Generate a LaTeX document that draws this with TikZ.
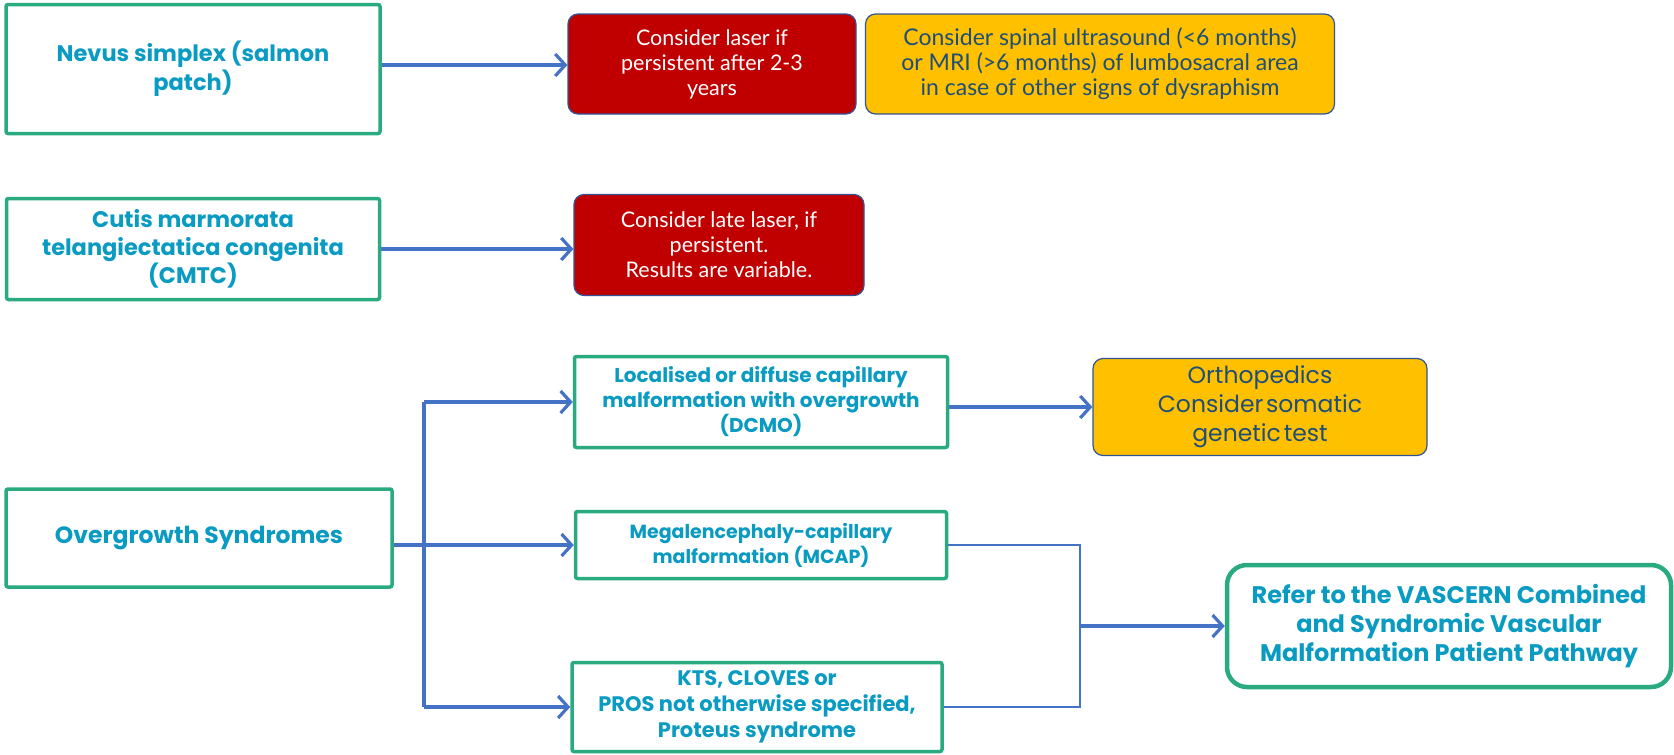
\documentclass[tikz,border=0pt]{standalone}
\usepackage{fontspec}
\setmainfont{Lato}
\newfontfamily\headfont{Poppins}
\usepackage{xcolor}
\usetikzlibrary{positioning,arrows.meta}

\definecolor{boxgreen}{HTML}{2AAA80}
\definecolor{tealtext}{HTML}{0A9BC2}
\definecolor{flowblue}{HTML}{4472C4}
\definecolor{alertred}{HTML}{C00000}
\definecolor{warnorange}{HTML}{FFC000}
\definecolor{navytext}{HTML}{1F4E79}
\definecolor{edgeblue}{HTML}{2F5597}

\begin{document}
\begin{tikzpicture}[
  x=1pt, y=-1pt,
  greenbox/.style={rectangle, rounded corners=2pt, draw=boxgreen, line width=3.5pt,
                   fill=white, align=center, text=tealtext, font=\headfont\bfseries\fontsize{22.5}{29}\selectfont},
  redbox/.style={rectangle, rounded corners=10pt, draw=edgeblue, line width=1.2pt,
                 fill=alertred, align=center, text=white, font=\fontsize{21.5}{25}\selectfont},
  orangebox/.style={rectangle, rounded corners=10pt, draw=edgeblue, line width=1.2pt,
                    fill=warnorange, align=center, text=navytext, font=\fontsize{23}{25}\selectfont},
  flow/.style={-{Straight Barb[length=10pt, width=22pt]}, draw=flowblue, line width=3.2pt},
  trunk/.style={draw=flowblue, line width=3.2pt},
  link/.style={draw=flowblue, line width=2.4pt}
]
\useasboundingbox (0,0) rectangle (1674,755);

% Nevus simplex row
\node[greenbox, minimum width=374pt, minimum height=129pt] (nevus) at (193,69)
  {Nevus simplex (salmon\\patch)};
\node[redbox, minimum width=288pt, minimum height=100pt] (laser1) at (712,64)
  {Consider laser if\\persistent after 2-3\\years};
\node[orangebox, minimum width=469pt, minimum height=100pt] (spine) at (1100,64)
  {Consider spinal ultrasound (<6 months)\\or MRI (>6 months) of lumbosacral area\\in case of other signs of dysraphism};
\draw[flow] (nevus.east |- 0,65) -- (laser1.west |- 0,65);

% CMTC row
\node[greenbox, minimum width=373pt, minimum height=101pt, font=\headfont\bfseries\fontsize{22.5}{28}\selectfont] (cmtc) at (193,249)
  {Cutis marmorata\\telangiectatica congenita\\(CMTC)};
\node[redbox, minimum width=290pt, minimum height=101pt] (laser2) at (719,245)
  {Consider late laser, if\\persistent.\\Results are variable.};
\draw[flow] (cmtc.east) -- (cmtc.east -| laser2.west);

% Overgrowth syndromes
\node[greenbox, minimum width=386pt, minimum height=98pt, font=\headfont\bfseries\fontsize{23.5}{29}\selectfont] (og) at (199,538)
  {Overgrowth Syndromes};
\node[greenbox, minimum width=373pt, minimum height=91pt, font=\headfont\bfseries\fontsize{20}{25}\selectfont] (dcmo) at (761,402)
  {Localised or diffuse capillary\\malformation with overgrowth\\(DCMO)};
\node[orangebox, minimum width=334pt, minimum height=97pt, font=\headfont\fontsize{23.5}{29}\selectfont] (ortho) at (1260,407)
  {Orthopedics\\Consider\hspace{0.12em}somatic\\genetic\hspace{0.12em}test};
\node[greenbox, minimum width=371pt, minimum height=67pt, font=\headfont\bfseries\fontsize{19}{25}\selectfont] (mcap) at (761,545)
  {Megalencephaly-capillary\\malformation (MCAP)};
\node[greenbox, minimum width=370pt, minimum height=89pt, font=\headfont\bfseries\fontsize{21}{26}\selectfont] (kts) at (757,707)
  {KTS, CLOVES or\\PROS not otherwise specified,\\Proteus syndrome};
\node[greenbox, rounded corners=20pt, line width=4.5pt, minimum width=444pt, minimum height=122pt,
      font=\headfont\bfseries\fontsize{24}{29}\selectfont] (vas) at (1449,626)
  {Refer to the VASCERN Combined\\and Syndromic Vascular\\Malformation Patient Pathway};

% Branching
\coordinate (split) at (424,550);
\coordinate (join) at (1080,626);
\draw[flow] (og.east |- mcap) -- (mcap.west);
\draw[trunk] (split |- dcmo) -- (split |- kts);
\draw[flow] (split |- dcmo) -- (dcmo.west);
\draw[flow] (split |- kts) -- (kts.west);
\draw[flow] (dcmo.east |- ortho) -- (ortho.west);

% Merging
\draw[link] (mcap.east) -- (join |- mcap) -- (join |- kts) -- (kts.east);
\draw[flow] (join |- vas) -- (vas.west);

\end{tikzpicture}
\end{document}
